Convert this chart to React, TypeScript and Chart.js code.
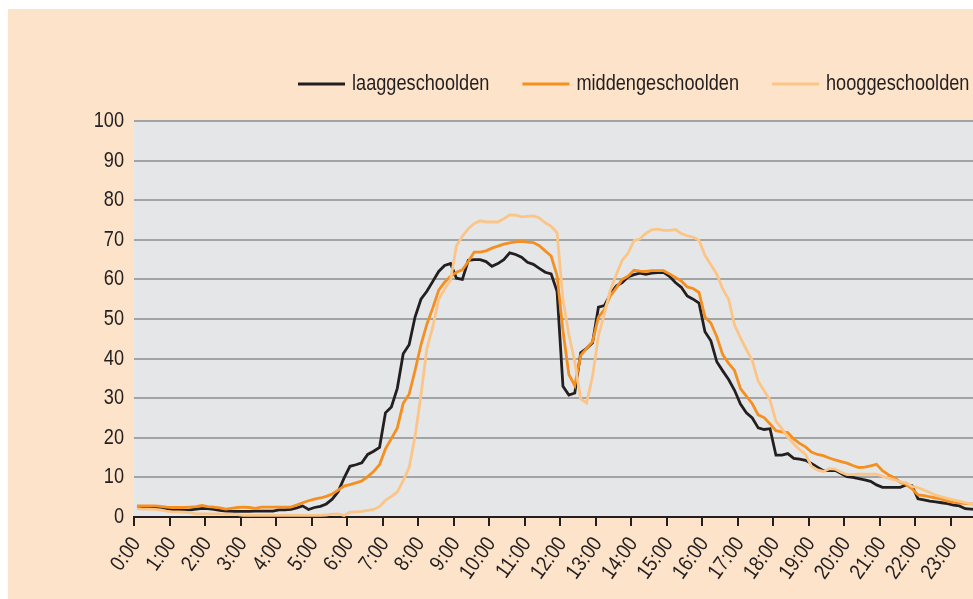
import React, { useEffect, useRef } from 'react';
import { Chart, registerables } from 'chart.js';

Chart.register(...registerables);

const hourLabels = [
  '0:00', '1:00', '2:00', '3:00', '4:00', '5:00', '6:00', '7:00', '8:00', '9:00', '10:00', '11:00',
  '12:00', '13:00', '14:00', '15:00', '16:00', '17:00', '18:00', '19:00', '20:00', '21:00', '22:00', '23:00',
];
const minuteSteps = ['00', '10', '20', '30', '40', '50'];
const timeSlots: string[] = hourLabels.flatMap((h) => minuteSteps.map((m) => h.replace(':00', ':' + m)));

// values per 10-minute slot (percentage)
const laaggeschoolden = [
  2.4, 2.4, 2.4, 2.4, 2.3, 2.0,
  1.8, 1.7, 1.7, 1.8, 2.0, 2.2,
  2.1, 1.9, 1.7, 1.5, 1.4, 1.4,
  1.4, 1.4, 1.5, 1.5, 1.5, 1.5,
  1.8, 1.8, 1.9, 2.3, 2.8, 1.9,
  2.4, 2.7, 3.3, 4.5, 6.4, 9.8,
  12.8, 13.2, 13.7, 15.8, 16.6, 17.6,
  26.3, 27.8, 32.5, 41.2, 43.5, 50.5,
  55.0, 57.0, 59.5, 62.0, 63.5, 64.0,
  60.3, 60.0, 64.8, 65.0, 65.0, 64.5,
  63.3, 64.0, 65.0, 66.7, 66.3, 65.6,
  64.3, 63.8, 62.8, 61.8, 61.4, 57.0,
  33.0, 30.8, 31.3, 41.5, 42.6, 44.0,
  53.0, 53.4, 56.2, 58.3, 59.2, 60.6,
  61.2, 61.6, 61.3, 61.6, 61.7, 61.8,
  60.8, 59.2, 58.0, 55.8, 55.0, 54.0,
  46.8, 44.5, 39.2, 36.9, 34.7, 32.0,
  28.5, 26.3, 25.0, 22.5, 22.1, 22.3,
  15.6, 15.6, 16.0, 14.8, 14.6, 14.3,
  13.5, 12.6, 11.7, 11.7, 11.8, 11.0,
  10.2, 10.0, 9.7, 9.4, 9.0, 8.1,
  7.5, 7.5, 7.5, 7.5, 8.1, 7.9,
  4.6, 4.3, 4.0, 3.8, 3.6, 3.4,
  3.0, 2.8, 2.1, 2.0, 1.9, 1.9,
];

const middengeschoolden = [
  2.8, 2.8, 2.8, 2.8, 2.7, 2.5,
  2.4, 2.4, 2.4, 2.5, 2.6, 2.9,
  2.6, 2.5, 2.3, 2.0, 2.2, 2.4,
  2.5, 2.4, 2.2, 2.5, 2.5, 2.5,
  2.5, 2.5, 2.5, 3.0, 3.6, 4.1,
  4.5, 4.8, 5.2, 5.8, 6.8, 7.8,
  8.2, 8.6, 9.1, 10.2, 11.5, 13.2,
  17.2, 19.8, 22.5, 28.7, 31.0, 37.0,
  43.5, 48.7, 52.8, 57.3, 59.3, 60.8,
  61.8, 62.4, 64.5, 66.9, 66.9, 67.2,
  67.9, 68.4, 68.9, 69.2, 69.5, 69.6,
  69.4, 69.3, 68.5, 67.2, 65.9, 61.0,
  47.0, 36.0, 33.2, 40.8, 42.6, 44.3,
  50.5, 52.4, 55.8, 57.8, 60.0, 60.8,
  62.3, 62.1, 62.0, 62.2, 62.2, 62.2,
  61.4, 60.5, 59.6, 58.1, 57.7, 56.7,
  50.5, 49.0, 45.5, 41.0, 38.8, 37.0,
  32.4, 30.5, 28.6, 25.8, 25.1, 23.5,
  21.8, 21.5, 21.3, 19.7, 18.6, 17.7,
  16.4, 15.8, 15.5, 14.9, 14.4, 14.0,
  13.6, 13.0, 12.5, 12.6, 12.9, 13.3,
  11.7, 10.7, 9.9, 8.8, 8.2, 7.1,
  5.6, 5.4, 5.1, 4.8, 4.5, 4.0,
  3.7, 3.6, 3.4, 3.3, 3.2, 3.1,
];

const hooggeschoolden = [
  2.1, 2.0, 2.0, 1.9, 1.8, 1.5,
  1.3, 1.3, 1.2, 1.1, 0.8, 0.8,
  0.8, 0.8, 0.8, 0.7, 0.7, 0.6,
  0.4, 0.4, 0.4, 0.4, 0.4, 0.4,
  0.4, 0.4, 0.4, 0.4, 0.4, 0.4,
  0.4, 0.4, 0.5, 0.7, 0.8, 0.4,
  1.2, 1.3, 1.4, 1.7, 1.9, 2.6,
  4.2, 5.2, 6.3, 9.2, 12.5, 20.3,
  30.8, 42.5, 48.0, 55.0, 57.6, 59.8,
  68.5, 70.9, 72.8, 74.1, 74.8, 74.5,
  74.5, 74.5, 75.3, 76.3, 76.2, 75.8,
  75.9, 76.0, 75.5, 74.3, 73.4, 71.8,
  55.0, 46.0, 39.2, 29.8, 28.8, 35.5,
  45.8, 51.3, 57.3, 61.2, 64.8, 66.6,
  69.8, 70.2, 71.6, 72.5, 72.7, 72.4,
  72.4, 72.6, 71.6, 71.0, 70.7, 69.9,
  66.1, 63.7, 61.3, 57.6, 55.0, 48.5,
  45.2, 42.3, 39.5, 34.3, 31.9, 29.5,
  24.2, 22.3, 20.2, 18.5, 17.0, 15.8,
  12.8, 11.9, 11.5, 12.2, 12.1, 11.3,
  10.7, 10.7, 10.8, 10.8, 10.8, 10.8,
  10.3, 9.8, 9.4, 8.9, 8.6, 7.7,
  7.4, 6.8, 6.2, 5.5, 5.1, 4.7,
  4.3, 4.0, 3.6, 3.3, 3.1, 2.9,
];

const seriesNames = ['laaggeschoolden', 'middengeschoolden', 'hooggeschoolden'];
const seriesColors = ['#231F20', '#F58F1F', '#FCC588'];
const yTicks = [0, 10, 20, 30, 40, 50, 60, 70, 80, 90, 100];

const FONT_FAMILY = '"Liberation Sans", Arial, sans-serif';
const FONT = `21.5px ${FONT_FAMILY}`;
const NARROW = 0.845; // horizontal condensing of the text
const TEXT_COLOR = '#231F20';
const PAGE_BG = '#FDE3C9';
const PLOT_BG = '#E5E6E8';
const GRID_COLOR = '#A2A3A5';
const LABEL_ROTATION = (54 * Math.PI) / 180;

const plotBackground = {
  id: 'plotBackground',
  beforeDraw(chart: any) {
    const { ctx, chartArea } = chart;
    ctx.save();
    ctx.fillStyle = PLOT_BG;
    ctx.fillRect(chartArea.left, chartArea.top, chartArea.right - chartArea.left, chartArea.bottom - chartArea.top);
    ctx.restore();
  },
};

// Narrow-font tick labels, positioned from the chart's own scales
const narrowAxisLabels = {
  id: 'narrowAxisLabels',
  afterDraw(chart: any) {
    const { ctx, chartArea } = chart;
    const ys = chart.scales.y;
    const xs = chart.scales.x;
    ctx.save();
    ctx.font = FONT;
    ctx.fillStyle = TEXT_COLOR;

    ys.ticks.forEach((t: any) => {
      const py = ys.getPixelForValue(t.value);
      ctx.save();
      ctx.translate(chartArea.left - 10, py);
      ctx.scale(NARROW, 1);
      ctx.textAlign = 'right';
      ctx.textBaseline = 'middle';
      ctx.fillText(String(t.value), 0, 0);
      ctx.restore();
    });

    const step = xs.getPixelForTick(1) - xs.getPixelForTick(0);
    hourLabels.forEach((label, k) => {
      const boundary = xs.getPixelForTick(k * 6) - step / 2;
      ctx.save();
      ctx.translate(boundary + 2.5, chartArea.bottom + 23);
      ctx.rotate(-LABEL_ROTATION);
      ctx.scale(NARROW, 1);
      ctx.textAlign = 'right';
      ctx.textBaseline = 'middle';
      ctx.fillText(label, 0, 0);
      ctx.restore();
    });
    ctx.restore();
  },
};

const lineLegend = {
  id: 'lineLegend',
  afterDraw(chart: any) {
    const { ctx } = chart;
    const datasets = chart.data.datasets;
    ctx.save();
    ctx.font = FONT;
    let x = 290;
    const lineY = 75;
    const textY = 81;
    datasets.forEach((ds: any) => {
      ctx.strokeStyle = ds.borderColor;
      ctx.lineWidth = 3;
      ctx.beginPath();
      ctx.moveTo(x, lineY);
      ctx.lineTo(x + 47, lineY);
      ctx.stroke();
      const tx = x + 54;
      ctx.save();
      ctx.translate(tx, textY);
      ctx.scale(NARROW, 1);
      ctx.fillStyle = TEXT_COLOR;
      ctx.textAlign = 'left';
      ctx.textBaseline = 'alphabetic';
      ctx.fillText(ds.label, 0, 0);
      ctx.restore();
      x = tx + ctx.measureText(ds.label).width * NARROW + 33;
    });
    ctx.restore();
  },
};

export default function App() {
  const canvasRef = useRef<HTMLCanvasElement | null>(null);

  useEffect(() => {
    if (!canvasRef.current) return;
    const seriesValues = [laaggeschoolden, middengeschoolden, hooggeschoolden];
    const chart = new Chart(canvasRef.current, {
      type: 'line',
      data: {
        labels: timeSlots,
        datasets: seriesNames.map((name, i) => ({
          label: name,
          data: seriesValues[i],
          borderColor: seriesColors[i],
          backgroundColor: seriesColors[i],
          borderWidth: 2.8,
          pointRadius: 0,
          tension: 0,
          fill: false,
          order: 2 - i,
        })),
      },
      options: {
        animation: false,
        responsive: true,
        maintainAspectRatio: false,
        layout: { padding: { top: 112, left: 0, right: 0, bottom: 0 } },
        plugins: {
          legend: { display: false },
          tooltip: { enabled: false },
        },
        scales: {
          x: {
            type: 'category',
            offset: true,
            grid: {
              offset: true,
              drawOnChartArea: false,
              drawTicks: true,
              tickLength: 9,
              lineWidth: 2,
              color: (c: any) => (c.index % 6 === 0 ? TEXT_COLOR : 'rgba(0,0,0,0)'),
            },
            border: { display: true, color: TEXT_COLOR, width: 2 },
            ticks: { display: false, autoSkip: false },
            afterFit: (s: any) => {
              s.height = 82;
              s.paddingLeft = 0;
              s.paddingRight = 0;
            },
          },
          y: {
            min: 0,
            max: 100,
            afterBuildTicks: (s: any) => {
              s.ticks = yTicks.map((v) => ({ value: v }));
            },
            ticks: { display: false },
            grid: { color: GRID_COLOR, lineWidth: 2, drawTicks: false },
            border: { display: false },
            afterFit: (s: any) => {
              s.width = 126;
            },
          },
        },
      },
      plugins: [plotBackground, narrowAxisLabels, lineLegend],
    } as any);
    return () => chart.destroy();
  }, []);

  return (
    <div
      style={{
        position: 'absolute',
        left: 8,
        top: 9,
        width: 965,
        height: 590,
        overflow: 'hidden',
        background: PAGE_BG,
      }}
    >
      <div style={{ position: 'relative', width: 978, height: 590 }}>
        <canvas ref={canvasRef} />
      </div>
    </div>
  );
}
